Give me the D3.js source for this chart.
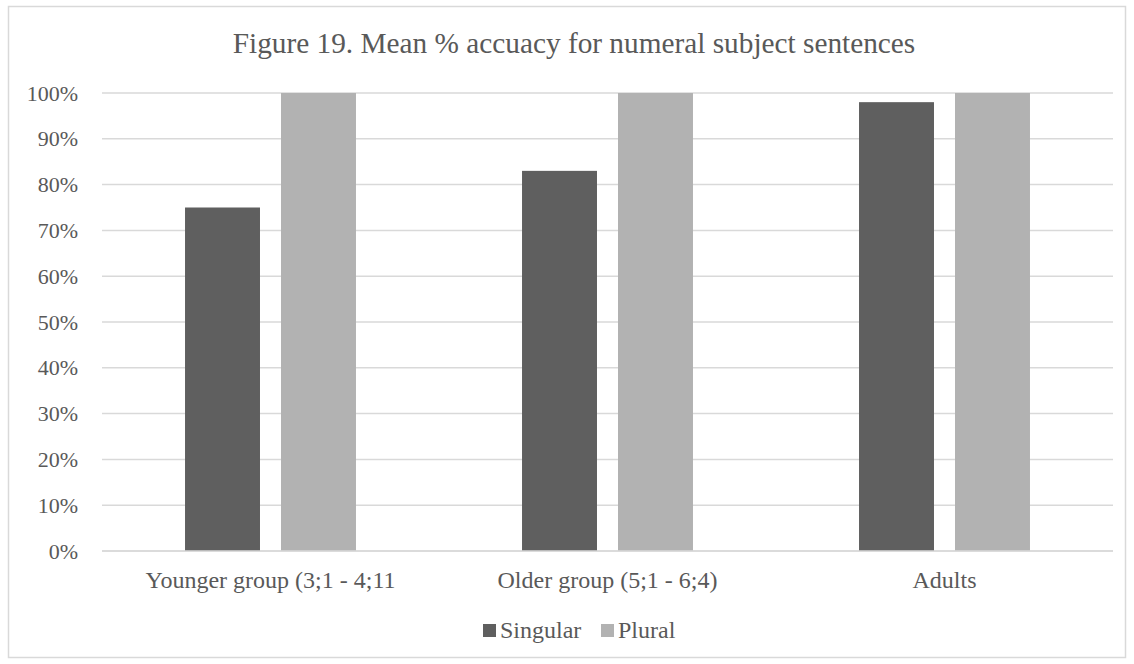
<!DOCTYPE html>
<html>
<head>
<meta charset="utf-8">
<script src="https://cdn.jsdelivr.net/npm/d3@7"></script>
<style>
  body { margin: 0; background: #fff; }
  text { font-family: "Liberation Serif", "Times New Roman", serif; fill: #595959; }
</style>
</head>
<body>
<div id="chart"></div>
<script>
// Chart data
const categories = ["Younger group (3;1 - 4;11", "Older group (5;1 - 6;4)", "Adults"];
const seriesNames = ["Singular", "Plural"];
const singularValues = [75, 83, 98];
const pluralValues = [100, 100, 100];
const yTicks = [0, 10, 20, 30, 40, 50, 60, 70, 80, 90, 100];
const titleText = "Figure 19. Mean % accuacy for numeral subject sentences";

const colors = ["#5f5f5f", "#b2b2b2"];

const width = 1134;
const height = 664;
const margin = { top: 93, right: 21, bottom: 113, left: 102 };

const svg = d3.select("#chart")
    .append("svg")
    .attr("width", width)
    .attr("height", height);

// Outer chart border
svg.append("rect")
    .attr("x", 8.5)
    .attr("y", 6.5)
    .attr("width", 1117)
    .attr("height", 651)
    .attr("fill", "#fff")
    .attr("stroke", "#d9d9d9")
    .attr("stroke-width", 1.5);

// Title
svg.append("text")
    .attr("x", 574)
    .attr("y", 53)
    .attr("text-anchor", "middle")
    .style("font-size", "29.3px")
    .text(titleText);

// Scales
const x0 = d3.scaleBand()
    .domain(categories)
    .range([margin.left, width - margin.right])
    .padding(0);

const x1 = d3.scaleBand()
    .domain(seriesNames)
    .range([0, x0.bandwidth()])
    .paddingInner(0.219)
    .paddingOuter(0.865);

const y = d3.scaleLinear()
    .domain([0, 100])
    .range([height - margin.bottom, margin.top]);

// Gridlines
svg.append("g")
    .selectAll("line")
    .data(yTicks)
    .enter()
    .append("line")
    .attr("x1", margin.left)
    .attr("x2", width - margin.right)
    .attr("y1", (d) => y(d))
    .attr("y2", (d) => y(d))
    .attr("stroke", "#d9d9d9")
    .attr("stroke-width", 1.5);

// Y axis labels
const yAxis = d3.axisLeft(y)
    .tickValues(yTicks)
    .tickFormat((d) => d + "%")
    .tickSize(0)
    .tickPadding(24);

const yG = svg.append("g")
    .attr("transform", `translate(${margin.left}, 0)`)
    .call(yAxis);
yG.select(".domain").remove();
yG.selectAll("text")
    .style("font-size", "22px")
    .style("font-family", "Liberation Serif, serif")
    .attr("fill", "#595959");

// Bars
const rows = categories.map((c, i) => ({
    category: c,
    values: [
        { key: seriesNames[0], value: singularValues[i] },
        { key: seriesNames[1], value: pluralValues[i] }
    ]
}));

const groups = svg.append("g")
    .selectAll("g")
    .data(rows)
    .enter()
    .append("g")
    .attr("transform", (d) => `translate(${x0(d.category)}, 0)`);

groups.selectAll("rect")
    .data((d) => d.values)
    .enter()
    .append("rect")
    .attr("x", (d) => x1(d.key))
    .attr("y", (d) => y(d.value))
    .attr("width", x1.bandwidth())
    .attr("height", (d) => y(0) - y(d.value))
    .attr("fill", (d, i) => colors[i]);

// Baseline
svg.append("line")
    .attr("x1", margin.left)
    .attr("x2", width - margin.right)
    .attr("y1", y(0))
    .attr("y2", y(0))
    .attr("stroke", "#d9d9d9")
    .attr("stroke-width", 1.5);

// X axis labels
const xAxis = d3.axisBottom(x0).tickSize(0).tickPadding(20);
const xG = svg.append("g")
    .attr("transform", `translate(0, ${y(0)})`)
    .call(xAxis);
xG.select(".domain").remove();
xG.selectAll("text")
    .style("font-size", "24px")
    .style("font-family", "Liberation Serif, serif")
    .attr("fill", "#595959");

// Legend
const legendItems = [
    { name: seriesNames[0], x: 483 },
    { name: seriesNames[1], x: 601 }
];
const legend = svg.append("g")
    .selectAll("g")
    .data(legendItems)
    .enter()
    .append("g")
    .attr("transform", (d) => `translate(${d.x}, 624)`);

legend.append("rect")
    .attr("width", 13)
    .attr("height", 13)
    .attr("fill", (d, i) => colors[i]);

legend.append("text")
    .attr("x", 17)
    .attr("y", 14)
    .style("font-size", "24px")
    .text((d) => d.name);
</script>
</body>
</html>
